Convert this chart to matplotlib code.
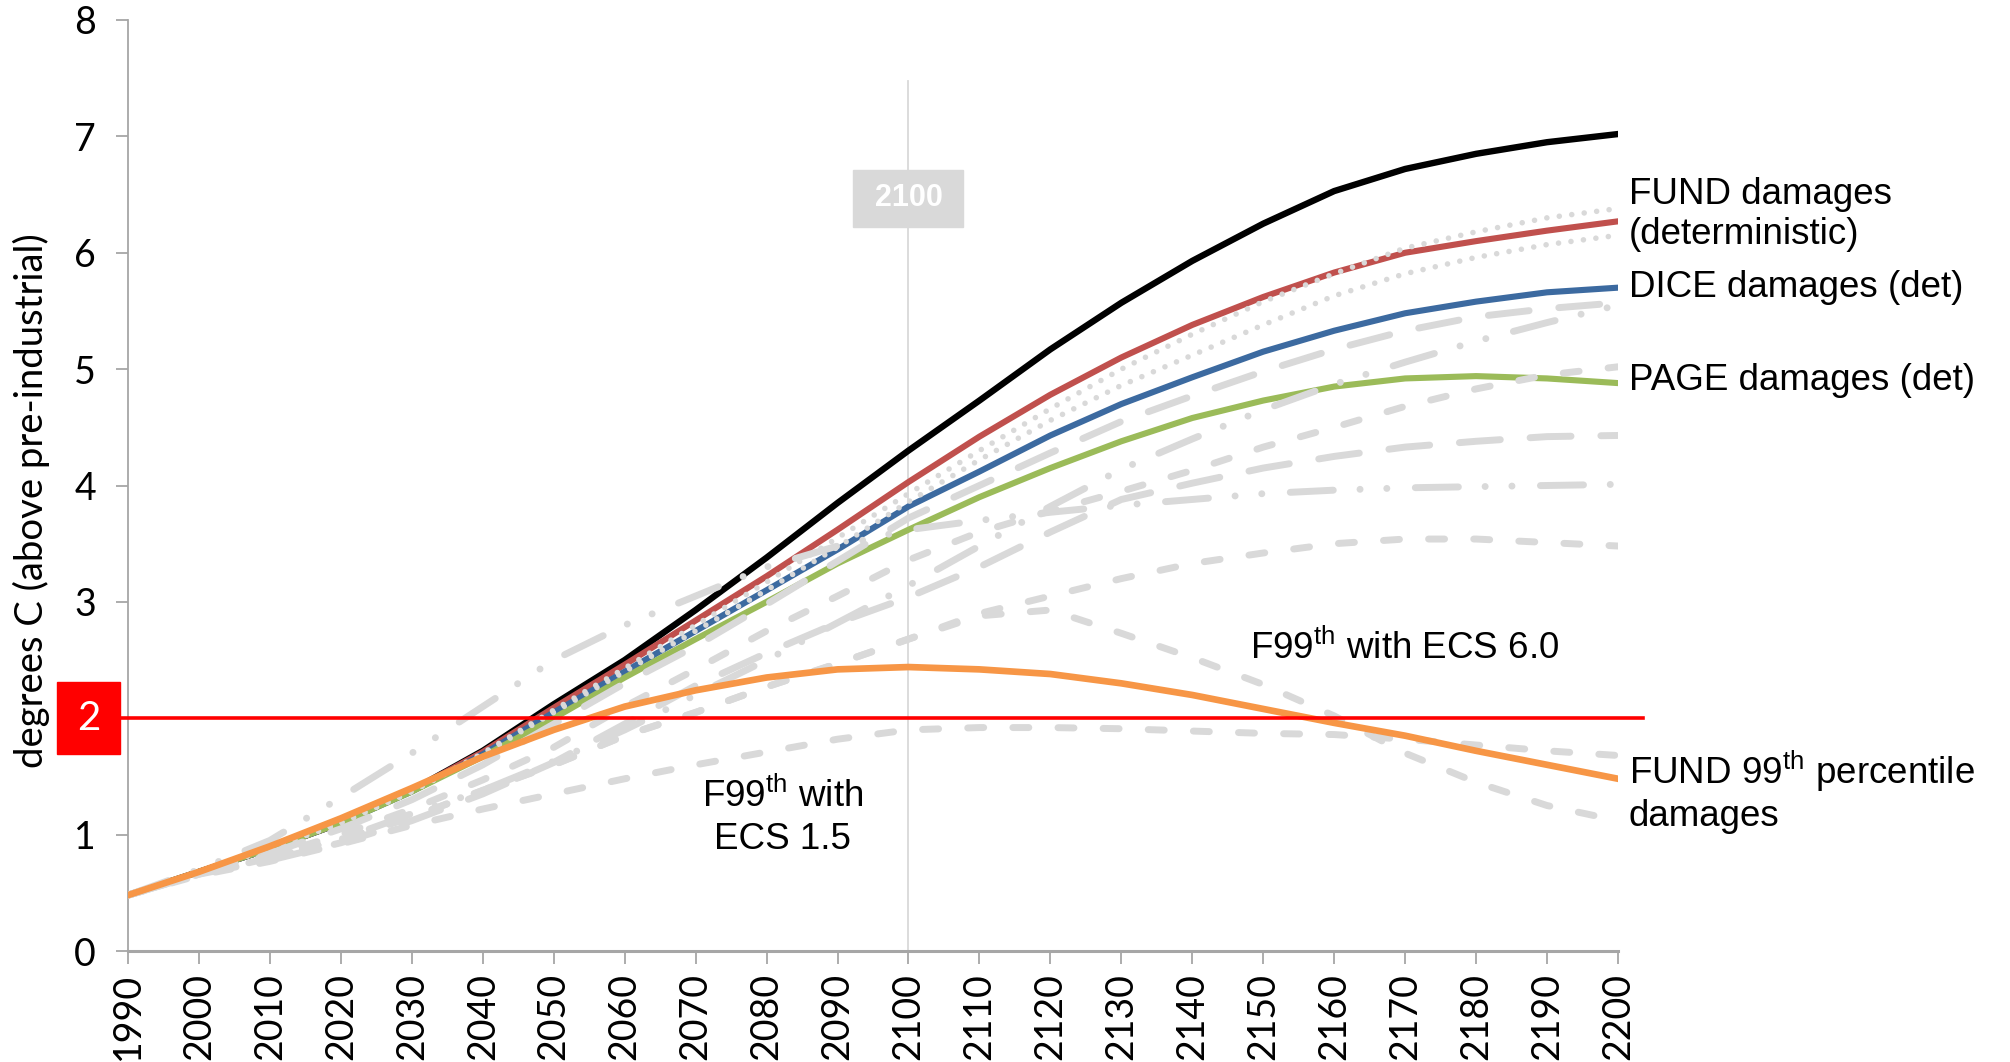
import numpy as np
import matplotlib.pyplot as plt
import matplotlib.transforms as mtransforms
from matplotlib.patches import Rectangle

plt.rcParams['font.family'] = ['Lato', 'DejaVu Sans']
plt.rcParams['mathtext.fontset'] = 'custom'
plt.rcParams['mathtext.rm'] = 'Liberation Sans'
plt.rcParams['mathtext.it'] = 'Liberation Sans:italic'
plt.rcParams['mathtext.bf'] = 'Liberation Sans:bold'

years = np.arange(1990, 2201, 10)

# optimal temperature paths (deg C above pre-industrial)
no_policy = [0.48, 0.68, 0.88, 1.10, 1.38, 1.72, 2.12, 2.50, 2.93, 3.38, 3.85,
             4.30, 4.73, 5.17, 5.57, 5.93, 6.25, 6.53, 6.72, 6.85, 6.95, 7.02]
fund_det = [0.48, 0.68, 0.88, 1.10, 1.38, 1.71, 2.09, 2.46, 2.84, 3.22, 3.62,
            4.03, 4.42, 4.78, 5.10, 5.38, 5.62, 5.83, 6.00, 6.10, 6.19, 6.27]
dice_det = [0.48, 0.68, 0.88, 1.10, 1.37, 1.69, 2.05, 2.40, 2.75, 3.10, 3.45,
            3.82, 4.12, 4.43, 4.70, 4.93, 5.15, 5.33, 5.48, 5.58, 5.66, 5.70]
page_det = [0.48, 0.68, 0.88, 1.10, 1.37, 1.67, 2.00, 2.35, 2.68, 3.00, 3.33,
            3.62, 3.90, 4.15, 4.38, 4.58, 4.73, 4.85, 4.92, 4.94, 4.92, 4.88]
fund_99 = [0.48, 0.68, 0.90, 1.14, 1.40, 1.67, 1.90, 2.10, 2.24, 2.35, 2.42,
           2.44, 2.42, 2.38, 2.30, 2.20, 2.08, 1.96, 1.85, 1.72, 1.60, 1.48]

# sensitivity runs, drawn in grey
sens_a = [0.48, 0.68, 0.88, 1.10, 1.37, 1.70, 2.07, 2.43, 2.80, 3.17, 3.55,
          3.93, 4.30, 4.66, 5.00, 5.30, 5.58, 5.82, 6.04, 6.18, 6.30, 6.38]
sens_b = [0.48, 0.68, 0.88, 1.10, 1.37, 1.69, 2.05, 2.40, 2.75, 3.10, 3.47,
          3.86, 4.22, 4.56, 4.86, 5.12, 5.38, 5.63, 5.82, 5.96, 6.07, 6.15]
sens_c = [0.48, 0.66, 0.84, 1.05, 1.30, 1.60, 1.95, 2.30, 2.62, 2.98, 3.35,
          3.72, 4.00, 4.28, 4.55, 4.77, 4.98, 5.17, 5.33, 5.45, 5.52, 5.57]
sens_d = [0.48, 0.66, 0.80, 0.96, 1.18, 1.38, 1.63, 1.90, 2.20, 2.50, 2.82,
          3.14, 3.48, 3.82, 4.14, 4.40, 4.65, 4.87, 5.06, 5.24, 5.40, 5.55]
sens_e = [0.48, 0.67, 0.82, 1.00, 1.22, 1.47, 1.75, 2.10, 2.42, 2.75, 3.05,
          3.36, 3.60, 3.78, 3.95, 4.13, 4.33, 4.50, 4.68, 4.83, 4.95, 5.02]
sens_f = [0.48, 0.66, 0.78, 0.93, 1.12, 1.35, 1.62, 1.95, 2.28, 2.56, 2.82,
          3.04, 3.30, 3.60, 3.88, 4.02, 4.15, 4.25, 4.33, 4.38, 4.42, 4.43]
sens_g = [0.48, 0.70, 0.95, 1.32, 1.70, 2.10, 2.50, 2.80, 3.05, 3.30, 3.48,
          3.62, 3.70, 3.77, 3.83, 3.88, 3.93, 3.96, 3.98, 3.99, 4.00, 4.01]
sens_h = [0.48, 0.66, 0.80, 0.96, 1.15, 1.38, 1.60, 1.85, 2.05, 2.27, 2.47,
          2.68, 2.90, 3.05, 3.20, 3.33, 3.42, 3.50, 3.54, 3.54, 3.51, 3.48]
f99_ecs15 = [0.48, 0.65, 0.77, 0.92, 1.08, 1.22, 1.35, 1.48, 1.60, 1.71, 1.82,
             1.90, 1.92, 1.92, 1.91, 1.89, 1.87, 1.86, 1.82, 1.77, 1.72, 1.68]
f99_ecs60 = [0.48, 0.66, 0.80, 0.96, 1.15, 1.38, 1.60, 1.85, 2.05, 2.27, 2.47,
             2.68, 2.88, 2.93, 2.73, 2.52, 2.29, 2.02, 1.70, 1.45, 1.25, 1.12]

target = 2.0
marker_year = 2100

grey = '#d9d9d9'
dotted = (0, (0.01, 2.25))
long_dash = (0, (5.9, 4.3))
med_dash = (0, (2.3, 4.2))
dash_dot_dot = (0, (6.2, 3.85, 0.01, 3.85, 0.01, 4.1))

fig = plt.figure(figsize=(20.1, 10.62), dpi=100)
ax = fig.add_axes([128 / 2010, 1 - 951 / 1062, 1490 / 2010, 931 / 1062])

ax.plot([marker_year, marker_year], [0, 7.48], color=grey, lw=1.3, zorder=1)

ax.plot(years, no_policy, color='black', lw=4.6, zorder=2)
ax.plot(years, fund_det, color='#c0504d', lw=4.4, zorder=2)
ax.plot(years, dice_det, color='#3c6aa0', lw=4.4, zorder=2)
ax.plot(years, page_det, color='#9bbb59', lw=4.4, zorder=2)

grey_runs = [
    (sens_a, dotted, 4.0),
    (sens_b, dotted, 4.0),
    (sens_c, long_dash, 5),
    (sens_d, dash_dot_dot, 5),
    (sens_e, med_dash, 5),
    (sens_f, long_dash, 5),
    (sens_g, dash_dot_dot, 5),
    (sens_h, med_dash, 5),
    (f99_ecs15, med_dash, 5),
    (f99_ecs60, med_dash, 5),
]
for vals, ls, lw in grey_runs:
    ax.plot(years, vals, color=grey, lw=lw, linestyle=ls,
            dash_capstyle='round', solid_capstyle='round', zorder=3)

ax.plot(years, fund_99, color='#f79646', lw=4.8, zorder=4)

# 2 degree target line and its tag on the y axis
ax.plot([1988.9, 2203.5], [target, target], color='red', lw=2.6,
        clip_on=False, zorder=6)
blend = mtransforms.blended_transform_factory(ax.transAxes, ax.transData)
ax.add_patch(Rectangle((-0.0477, target - 0.31), 0.0423, 0.62,
                       transform=blend, color='red', clip_on=False, zorder=6))
ax.text(-0.0477 + 0.0423 / 2, target, str(int(target)), transform=blend,
        ha='center', va='center', color='white', fontsize=29, zorder=7)

# year marker tag
ax.add_patch(Rectangle((marker_year - 7.75, 6.225), 15.5, 0.49,
                       color=grey, zorder=5))
ax.text(marker_year, 6.47, str(marker_year), ha='center', va='center',
        color='white', fontweight='bold', family='Liberation Sans',
        fontsize=22, zorder=6)

lab = dict(family='Liberation Sans', fontsize=26.5, color='black')
ax.text(2201.5, 6.33, 'FUND damages\n(deterministic)', ha='left',
        va='center', linespacing=1.2, clip_on=False, **lab)
ax.text(2201.5, 5.70, 'DICE damages (det)', ha='left', va='center',
        clip_on=False, **lab)
ax.text(2201.5, 4.90, 'PAGE damages (det)', ha='left', va='center',
        clip_on=False, **lab)
ax.text(2201.5, 1.37, 'FUND 99$^{\\rm th}$ percentile\ndamages', ha='left',
        va='center', linespacing=1.2, clip_on=False, **lab)
ax.text(2148.1, 2.6, 'F99$^{\\rm th}$ with ECS 6.0', ha='left', va='center',
        **lab)
ax.text(2082.2, 1.15, 'F99$^{\\rm th}$ with\nECS 1.5', ha='center',
        va='center', linespacing=1.25, **lab)

ax.set_xlim(1990, 2200)
ax.set_ylim(0, 8)
ax.set_xticks(years)
ax.set_xticklabels([str(y) for y in years], rotation=90)
ax.set_yticks(range(0, 9))
ax.tick_params(axis='both', labelsize=27, colors='#a6a6a6', labelcolor='black',
               length=9, width=1.3, direction='out')
ax.tick_params(axis='y', pad=14)
ax.tick_params(axis='x', pad=7)

for side in ('top', 'right'):
    ax.spines[side].set_visible(False)
ax.spines['left'].set_color('#a6a6a6')
ax.spines['left'].set_linewidth(1.3)
ax.spines['bottom'].set_color('#a6a6a6')
ax.spines['bottom'].set_linewidth(2.2)

fig.text(31 / 2010, 1 - 501 / 1062, 'degrees C (above pre-industrial)',
         rotation=90, ha='center', va='center', fontsize=27.5)

fig.savefig('out.png', dpi=100, facecolor='white')
